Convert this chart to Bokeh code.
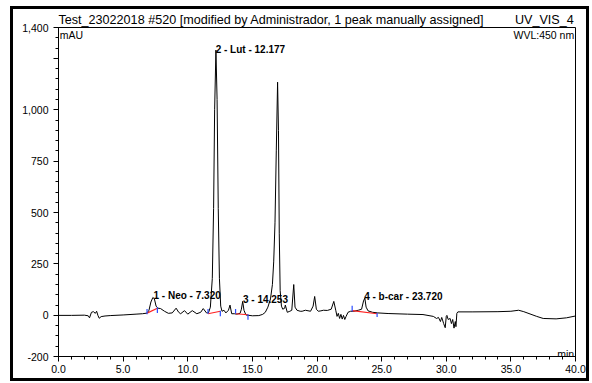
from bokeh.plotting import figure
from bokeh.models import Label, FixedTicker, Range1d
from bokeh.embed import file_html
from bokeh.resources import INLINE

# chromatogram trace (time in min, signal in mAU)
t = [0.0, 1.0, 2.0, 2.3, 2.4, 2.55, 2.7, 2.85, 2.95, 3.05, 3.15, 3.3, 3.6, 4.0, 5.0, 6.0, 6.5, 6.85,
     7.0, 7.15, 7.3, 7.42, 7.55, 7.7, 7.9, 8.2, 8.5, 8.8, 9.1, 9.3, 9.45, 9.75, 10.0, 10.35, 10.7,
     11.0, 11.2, 11.45, 11.6, 11.75, 11.9, 12.0, 12.08, 12.18, 12.27, 12.36, 12.45, 12.55, 12.65,
     12.8, 12.95, 13.15, 13.27, 13.4, 13.6, 13.8, 14.05, 14.15, 14.25, 14.35, 14.5, 15.0, 15.5, 15.8,
     16.0, 16.2, 16.4, 16.55, 16.65, 16.75, 16.85, 16.95, 17.02, 17.08, 17.15, 17.25, 17.35, 17.5,
     17.55, 17.7, 17.9, 18.05, 18.2, 18.3, 18.45, 18.7, 18.85, 19.1, 19.5, 19.7, 19.82, 19.95, 20.1,
     20.3, 20.5, 20.8, 21.1, 21.3, 21.45, 21.55, 21.65, 21.75, 21.85, 21.95, 22.05, 22.15, 22.25,
     22.4, 22.6, 22.85, 23.2, 23.45, 23.6, 23.7, 23.8, 23.95, 24.3, 24.7, 25.5, 27.0, 28.2, 29.0,
     29.25, 29.4, 29.55, 29.65, 29.8, 29.92, 30.0, 30.05, 30.15, 30.3, 30.4, 30.5, 30.6, 30.7, 30.75,
     30.82, 30.9, 32.0, 34.0, 35.0, 35.6, 36.0, 37.0, 37.5, 38.5, 39.3, 40.0]
mau = [0, 0, 1, -2, -12, 15, 18, 10, 20, 0, -14, -6, -3, -1, 2, 6, 8, 11,
       25, 65, 87, 80, 45, 35, 33, 20, 10, 12, 35, 15, 8, 23, 6, 23, 8,
       15, 33, 12, 12, 40, 180, 520, 1000, 1290, 1050, 520, 180, 45, 20,
       25, 12, 25, 50, 8, 8, 6, 10, 30, 68, 25, 2, -2, -1, 5,
       15, 40, 80, 150, 260, 450, 800, 1134, 900, 400, 120, 45, 30, 35,
       50, 15, 20, 25, 150, 40, 25, 20, 20, 25, 20, 45, 92, 30, 20,
       22, 25, 24, 30, 68, 25, -5, 10, -15, 5, -18, 0, -20, -5,
       15, 20, 20, 25, 30, 70, 84, 40, 22, 15, 12, 9, 6, 4, -5,
       -15, -10, -30, -10, -40, -60, -5, 0, -20, -15, -40, -20, -62, -30, -55,
       10, 17, 17, 18, 20, 25, 18, -5, -15, -17, -12, -3]

# integration baselines (start/end time, start/end level)
base_t0 = [6.85, 11.57, 13.70, 22.72]
base_v0 = [11, 8, 8, 23]
base_t1 = [7.65, 12.52, 14.66, 24.65]
base_v1 = [35, 20, 3, 8]
# delimiter marks: (time, low, high)
mark_t = [6.85, 7.65, 11.57, 12.52, 13.70, 14.66, 22.72, 24.65]
mark_lo = [6, 11, 8, -4, 8, -21, 19, -8]
mark_hi = [31, 40, 31, 23, 31, 6, 47, 11]

# peak labels
peak_names = ["1 - Neo - 7.320", "2 - Lut - 12.177", "3 - 14.253", "4 - b-car - 23.720"]
peak_x = [7.35, 12.16, 14.27, 23.65]
peak_y = [99, 1294, 75, 94]

x_ticks = [0, 5, 10, 15, 20, 25, 30, 35, 40]
x_labels = ["0.0", "5.0", "10.0", "15.0", "20.0", "25.0", "30.0", "35.0", "40.0"]
y_ticks = [-200, 0, 250, 500, 750, 1000, 1250, 1400]
y_labels = ["-200", "0", "250", "500", "750", "1,000", "", "1,400"]

title_left = "Test_23022018 #520 [modified by Administrador, 1 peak manually assigned]"
title_right = "UV_VIS_4"

FONT = "Liberation Sans"
NBSP = "\u00a0"

p = figure(width=579, height=375, output_backend="svg", toolbar_location=None,
           x_range=Range1d(0, 40), y_range=Range1d(-200, 1400),
           min_border_left=45, min_border_right=17, min_border_top=17, min_border_bottom=28,
           margin=(6, 0, 0, 10),
           styles={"border": "3px solid black"},
           title=title_left + NBSP * 9 + title_right)
p.title.align = "left"
p.title.text_font = FONT
p.title.text_font_size = "12.6px"
p.title.text_font_style = "normal"
p.title.text_color = "black"
p.title.standoff = 2
p.title.offset = 0

p.xgrid.visible = False
p.ygrid.visible = False
p.outline_line_color = "black"
p.outline_line_width = 1
p.background_fill_color = "white"
p.border_fill_alpha = 0

p.xaxis.ticker = FixedTicker(ticks=x_ticks, minor_ticks=list(range(0, 41)))
p.xaxis.major_label_overrides = {tk: lb for tk, lb in zip(x_ticks, x_labels)}
p.yaxis.ticker = FixedTicker(ticks=y_ticks, minor_ticks=list(range(-200, 1401, 50)))
p.yaxis.major_label_overrides = {tk: lb for tk, lb in zip(y_ticks, y_labels)}
for ax in (p.xaxis, p.yaxis):
    ax.axis_line_color = "black"
    ax.major_tick_line_color = "black"
    ax.minor_tick_line_color = "black"
    ax.major_tick_out = 5
    ax.major_tick_in = 0
    ax.minor_tick_out = 3
    ax.minor_tick_in = 0
    ax.major_label_text_font = FONT
    ax.major_label_text_color = "black"
p.xaxis.major_label_text_font_size = "10.5px"
p.yaxis.major_label_text_font_size = "10.5px"
p.xaxis.major_label_standoff = 3
p.yaxis.major_label_standoff = 5

p.line(t, mau, line_color="black", line_width=1)
p.segment(x0=base_t0, y0=base_v0, x1=base_t1, y1=base_v1, line_color="#ff2020", line_width=1.2)
p.segment(x0=mark_t, y0=mark_lo, x1=mark_t, y1=mark_hi, line_color="#2a4cff", line_width=1.2)

for name, px, py in zip(peak_names, peak_x, peak_y):
    p.add_layout(Label(x=px, y=py, text=name, text_font=FONT, text_font_size="10px",
                       text_font_style="bold", text_color="black", text_baseline="alphabetic"))

p.add_layout(Label(x=0.1, y=1392, text="mAU", text_font=FONT, text_font_size="10.5px",
                   text_baseline="top", text_color="black"))
p.add_layout(Label(x=39.9, y=1392, text="WVL:450 nm", text_align="right", text_font=FONT,
                   text_font_size="10.5px", text_baseline="top", text_color="black"))
p.add_layout(Label(x=39.9, y=-186, text="min", text_align="right", text_font=FONT,
                   text_font_size="10.5px", text_baseline="alphabetic", text_color="black"))

open("out.html", "w").write(file_html(p, INLINE))
